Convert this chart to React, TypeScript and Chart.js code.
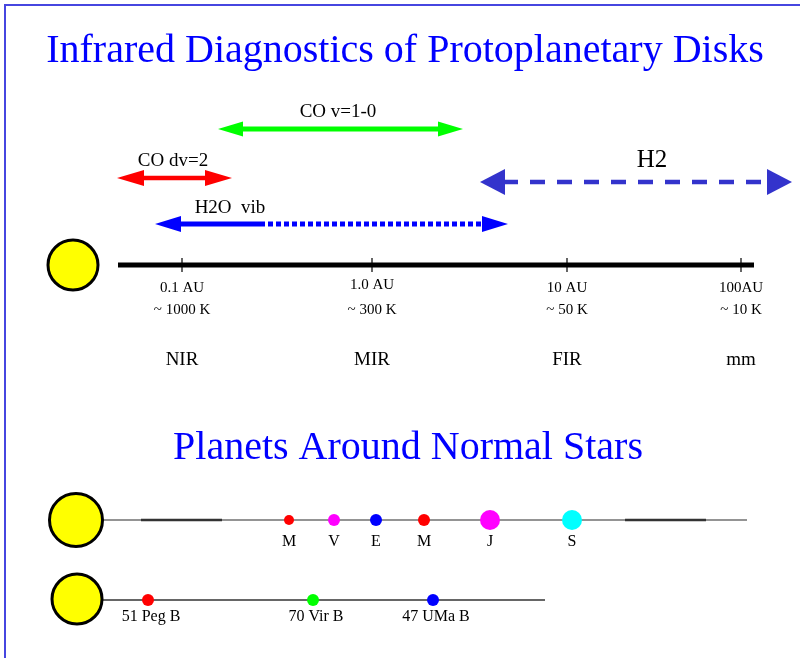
import { useEffect, useRef } from "react";
import { Chart, registerables } from "chart.js";

Chart.register(...registerables);

// ---------- DATA (diagram units: x left→right 0..800, y top→bottom 0..658) ----------
const mainTitle = "Infrared Diagnostics of Protoplanetary Disks";
const planetsTitle = "Planets Around Normal Stars";

// Diagnostic arrows
const diagNames = ["CO v=1-0", "CO dv=2", "H2O  vib", "H2"];
const diagFrom = [218, 117, 155, 480];
const diagTo = [463, 232, 508, 792];
const diagRow = [129, 178, 224, 182];
const diagDashFrom = [463, 232, 260, 480]; // where the broken part of the shaft begins
const diagLabelX = [338, 173, 230, 652];
const diagLabelRow = [112, 161, 208, 160];

// Radius axis
const axisFrom = 118;
const axisTo = 754;
const axisRow = 265;
const tickPos = [182, 372, 567, 741];
const auTicks = ["0.1 AU", "1.0 AU", "10 AU", "100AU"];
const auRow = [288, 285, 288, 288];
const tempTicks = ["~ 1000 K", "~ 300 K", "~ 50 K", "~ 10 K"];
const bands = ["NIR", "MIR", "FIR", "mm"];

// Solar system
const solarNames = ["M", "V", "E", "M", "J", "S"];
const solarPos = [289, 334, 376, 424, 490, 572];
const solarSize = [5, 6, 6, 6, 10, 10];
const solarRow = 520;
const solarLineTo = 747;
const solarHighlight = [[141, 222], [625, 706]];

// Exoplanets
const exoNames = ["51 Peg B", "70 Vir B", "47 UMa B"];
const exoPos = [148, 313, 433];
const exoSize = [6, 6, 6];
const exoRow = 600;
const exoLineTo = 545;

// Stars
const starX = [73, 76, 77];
const starY = [265, 520, 599];
const starSize = [25, 26.5, 25];

// ---------- STYLES ----------
const diagColors = ["#00ff00", "#ff0000", "#0000ff", "#3333cc"];
const diagWidths = [5, 4.5, 5, 4.5];
const diagDash = [[], [], [5, 3], [15, 12]];
const headLen = [25, 27, 26, 25];
const headHalf = [7.5, 8, 8, 13];
const diagFontSize = [19, 19, 19, 25];
const solarColors = ["#ff0000", "#ff00ff", "#0000ff", "#ff0000", "#ff00ff", "#00ffff"];
const exoColors = ["#ff0000", "#00ff00", "#0000ff"];
const SERIF = '"Liberation Serif", "Times New Roman", serif';

type P = [number, number];
const lineDs = (pts: P[], color: string, width: number, dash: number[] = [], order = 2) => ({
  type: "line" as const,
  data: pts.map(([x, y]) => ({ x, y })),
  borderColor: color,
  borderWidth: width,
  borderDash: dash,
  borderCapStyle: "butt" as const,
  pointRadius: 0,
  pointHoverRadius: 0,
  fill: false,
  tension: 0,
  clip: false,
  order,
});
const dotDs = (xs: number[], ys: number[], r: number[], colors: string[], border: string, bw: number, order = 0) => ({
  type: "scatter" as const,
  data: xs.map((x, i) => ({ x, y: ys[i] })),
  pointRadius: r,
  pointHoverRadius: r,
  pointBackgroundColor: colors,
  pointBorderColor: border,
  pointBorderWidth: bw,
  showLine: false,
  clip: false,
  order,
});

function buildDatasets() {
  const ds: any[] = [];
  // frame
  ds.push(lineDs([[5, 658], [5, 5], [800, 5]], "#4646e0", 2));
  // diagnostic shafts
  diagNames.forEach((_, i) => {
    const a = diagFrom[i] + headLen[i] - 2;
    const b = diagTo[i] - headLen[i] + 2;
    const br = Math.max(a, Math.min(b, diagDashFrom[i]));
    if (br > a) ds.push(lineDs([[a, diagRow[i]], [br, diagRow[i]]], diagColors[i], diagWidths[i]));
    if (b > br) ds.push(lineDs([[br, diagRow[i]], [b, diagRow[i]]], diagColors[i], diagWidths[i], diagDash[i]));
  });
  // radius axis
  ds.push(lineDs([[axisFrom, axisRow], [axisTo, axisRow]], "#000000", 5));
  tickPos.forEach((t) => ds.push(lineDs([[t, axisRow - 7], [t, axisRow + 7]], "#000000", 1.2, [], 1)));
  // solar system line
  ds.push(lineDs([[100, solarRow], [solarLineTo, solarRow]], "#707070", 1.6));
  solarHighlight.forEach(([a, b]) => ds.push(lineDs([[a, solarRow], [b, solarRow]], "#333333", 2.4, [], 1)));
  // exo line
  ds.push(lineDs([[100, exoRow], [exoLineTo, exoRow]], "#666666", 2));
  // stars & planets
  ds.push(dotDs(starX, starY, starSize, ["#ffff00", "#ffff00", "#ffff00"], "#000000", 3));
  ds.push(dotDs(solarPos, solarPos.map(() => solarRow), solarSize, solarColors, "rgba(0,0,0,0)", 0));
  ds.push(dotDs(exoPos, exoPos.map(() => exoRow), exoSize, exoColors, "rgba(0,0,0,0)", 0));
  return ds;
}

const overlayPlugin = {
  id: "overlay",
  afterDatasetsDraw(chart: any) {
    const { ctx } = chart;
    const X = (v: number) => chart.scales.x.getPixelForValue(v);
    const Y = (v: number) => chart.scales.y.getPixelForValue(v);
    ctx.save();
    // arrow heads
    diagNames.forEach((_, i) => {
      const y = Y(diagRow[i]);
      ctx.fillStyle = diagColors[i];
      [[diagFrom[i], 1], [diagTo[i], -1]].forEach(([tip, dir]) => {
        const tx = X(tip);
        const bx = X(tip + dir * headLen[i]);
        ctx.beginPath();
        ctx.moveTo(tx, y);
        ctx.lineTo(bx, y - headHalf[i]);
        ctx.lineTo(bx, y + headHalf[i]);
        ctx.closePath();
        ctx.fill();
      });
    });
    const text = (s: string, x: number, y: number, size: number, color = "#000000", base: CanvasTextBaseline = "middle") => {
      ctx.font = `${size}px ${SERIF}`;
      ctx.fillStyle = color;
      ctx.textAlign = "center";
      ctx.textBaseline = base;
      ctx.fillText(s, X(x), Y(y));
    };
    text(mainTitle, 405, 62, 40, "#0000ff", "alphabetic");
    text(planetsTitle, 408, 459, 40, "#0000ff", "alphabetic");
    diagNames.forEach((n, i) => text(n, diagLabelX[i], diagLabelRow[i], diagFontSize[i]));
    tickPos.forEach((t, i) => {
      text(auTicks[i], t, auRow[i], 15);
      text(tempTicks[i], t, 310, 15);
      text(bands[i], t, 360, 19);
    });
    solarNames.forEach((n, i) => text(n, solarPos[i], 542, 16));
    exoNames.forEach((n, i) => text(n, exoPos[i] + 3, 617, 16));
    ctx.restore();
  },
};

export default function App() {
  const ref = useRef<HTMLCanvasElement>(null);
  useEffect(() => {
    if (!ref.current) return;
    const chart = new Chart(ref.current, {
      type: "line",
      data: { datasets: buildDatasets() },
      options: {
        animation: false,
        responsive: false,
        devicePixelRatio: 1,
        layout: { padding: 0, autoPadding: false },
        events: [],
        plugins: { legend: { display: false }, tooltip: { enabled: false }, title: { display: false } },
        scales: {
          x: { type: "linear", min: 0, max: 800, display: false },
          y: { type: "linear", min: 0, max: 658, reverse: true, display: false },
        },
      },
      plugins: [overlayPlugin],
    });
    return () => chart.destroy();
  }, []);
  return (
    <canvas
      ref={ref}
      width={800}
      height={658}
      style={{ position: "fixed", left: 0, top: 0, width: 800, height: 658, background: "#ffffff" }}
    />
  );
}
